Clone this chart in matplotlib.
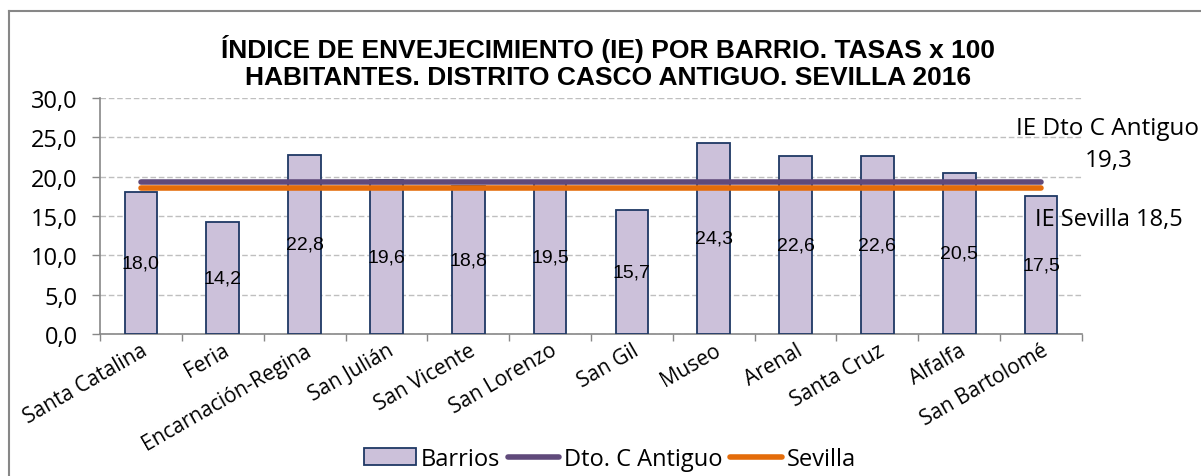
import matplotlib
matplotlib.use("Agg")
import matplotlib.pyplot as plt
from matplotlib.lines import Line2D
import numpy as np

barrios = ["Santa Catalina", "Feria", "Encarnación-Regina", "San Julián", "San Vicente",
           "San Lorenzo", "San Gil", "Museo", "Arenal", "Santa Cruz", "Alfalfa", "San Bartolomé"]
ie_barrios = [18.0, 14.2, 22.8, 19.6, 18.8, 19.5, 15.7, 24.3, 22.6, 22.6, 20.5, 17.5]
ie_distrito = 19.3
ie_sevilla = 18.5
yticks = [0, 5, 10, 15, 20, 25, 30]

title = "ÍNDICE DE ENVEJECIMIENTO (IE) POR BARRIO. TASAS x 100\nHABITANTES. DISTRITO CASCO ANTIGUO. SEVILLA 2016"

W, H = 1201, 477
fig = plt.figure(figsize=(W / 100, H / 100), dpi=100)
ax = fig.add_axes([100 / W, 1 - 335 / H, (1082 - 100) / W, (335 - 99) / H])

CAL = ["Open Sans", "DejaVu Sans"]
ARIAL = ["Liberation Sans", "DejaVu Sans"]

x = np.arange(len(barrios))
h_bar = ax.bar(x, ie_barrios, width=0.40, color="#CCC1DA", edgecolor="#1F3864",
               linewidth=1.3, zorder=3, label="Barrios")
h_dto, = ax.plot(x, [ie_distrito] * len(x), color="#604A7B", lw=4, solid_capstyle="round",
                 zorder=4, label="Dto. C Antiguo")
h_sev, = ax.plot(x, [ie_sevilla] * len(x), color="#E46C0A", lw=4, solid_capstyle="round",
                 zorder=4, label="Sevilla")

for xi, v in zip(x, ie_barrios):
    ax.text(xi, v / 2, f"{v:.1f}".replace(".", ","), ha="center", va="center",
            fontsize=14, family=ARIAL, color="black", zorder=5)

ax.set_xlim(-0.5, len(barrios) - 0.5)
ax.set_ylim(0, 30)
ax.set_yticks(yticks)
ax.set_yticklabels([f"{t:.1f}".replace(".", ",") for t in yticks], family=CAL, fontsize=17)
ax.set_xticks(x)
ax.set_xticklabels(barrios, family=CAL, fontsize=15, rotation=30, ha="right",
                   rotation_mode="anchor")
ax.set_xticks(np.arange(-0.5, len(barrios), 1.0), minor=True)
ax.tick_params(axis="x", which="major", length=0, pad=4)
ax.tick_params(axis="x", which="minor", length=5, color="#888888", width=1)
ax.tick_params(axis="y", which="major", length=6, color="#888888", width=1, pad=10)

ax.grid(axis="y", color="#BFBFBF", linestyle=(0, (4, 2)), lw=1, zorder=0)
for s in ["top", "right"]:
    ax.spines[s].set_visible(False)
for s in ["left", "bottom"]:
    ax.spines[s].set_color("#888888")
    ax.spines[s].set_linewidth(1.2)

fig.text(0.5 * (217 + 999) / W, 1 - 62.5 / H, title, ha="center", va="center",
         family=ARIAL, fontweight="bold", fontsize=19, linespacing=1.17)

fig.text(1108 / W, 1 - 129 / H, "IE Dto C Antiguo", ha="center", va="center",
         family=CAL, fontsize=17.5)
fig.text(1109 / W, 1 - 161 / H, "19,3", ha="center", va="center",
         family=CAL, fontsize=17.5)
fig.text(1035 / W, 1 - 220 / H, "IE Sevilla 18,5", ha="left", va="center",
         family=CAL, fontsize=17)

fig.legend(handles=[h_bar, h_dto, h_sev], loc="center",
           bbox_to_anchor=(610 / W, 1 - 460 / H), ncol=3, frameon=False,
           prop={"family": CAL, "size": 17}, handlelength=2.2, handleheight=0.7,
           handletextpad=0.2, columnspacing=0.3, borderaxespad=0)

fig.add_artist(Line2D([9 / W, 1.0], [1 - 12 / H] * 2, transform=fig.transFigure,
                      color="#878787", lw=1.5))
fig.add_artist(Line2D([9 / W] * 2, [0, 1 - 12 / H], transform=fig.transFigure,
                      color="#878787", lw=1.5))

fig.savefig("out.png", dpi=100)
